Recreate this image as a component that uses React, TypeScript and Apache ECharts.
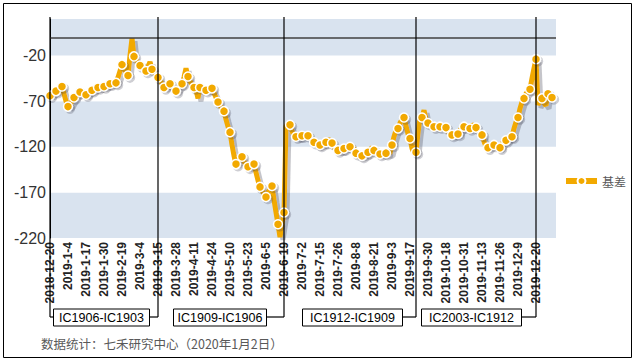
import React, { useEffect, useRef } from "react";
import * as echarts from "echarts";

// Trading days (category axis)
const dates: string[] = [
  "2018-12-20","2018-12-21","2018-12-24","2018-12-25","2018-12-26","2018-12-27","2018-12-28",
  "2019-1-2","2019-1-3","2019-1-4","2019-1-7","2019-1-8","2019-1-9","2019-1-10","2019-1-11","2019-1-14","2019-1-15","2019-1-16","2019-1-17","2019-1-18","2019-1-21","2019-1-22","2019-1-23","2019-1-24","2019-1-25","2019-1-28","2019-1-29","2019-1-30","2019-1-31",
  "2019-2-1","2019-2-11","2019-2-12","2019-2-13","2019-2-14","2019-2-15","2019-2-18","2019-2-19","2019-2-20","2019-2-21","2019-2-22","2019-2-25","2019-2-26","2019-2-27","2019-2-28",
  "2019-3-1","2019-3-4","2019-3-5","2019-3-6","2019-3-7","2019-3-8","2019-3-11","2019-3-12","2019-3-13","2019-3-14","2019-3-15","2019-3-18","2019-3-19","2019-3-20","2019-3-21","2019-3-22","2019-3-25","2019-3-26","2019-3-27","2019-3-28","2019-3-29",
  "2019-4-1","2019-4-2","2019-4-3","2019-4-4","2019-4-8","2019-4-9","2019-4-10","2019-4-11","2019-4-12","2019-4-15","2019-4-16","2019-4-17","2019-4-18","2019-4-19","2019-4-22","2019-4-23","2019-4-24","2019-4-25","2019-4-26","2019-4-29","2019-4-30",
  "2019-5-6","2019-5-7","2019-5-8","2019-5-9","2019-5-10","2019-5-13","2019-5-14","2019-5-15","2019-5-16","2019-5-17","2019-5-20","2019-5-21","2019-5-22","2019-5-23","2019-5-24","2019-5-27","2019-5-28","2019-5-29","2019-5-30","2019-5-31",
  "2019-6-3","2019-6-4","2019-6-5","2019-6-6","2019-6-10","2019-6-11","2019-6-12","2019-6-13","2019-6-14","2019-6-17","2019-6-18","2019-6-19","2019-6-20","2019-6-21","2019-6-24","2019-6-25","2019-6-26","2019-6-27","2019-6-28",
  "2019-7-1","2019-7-2","2019-7-3","2019-7-4","2019-7-5","2019-7-8","2019-7-9","2019-7-10","2019-7-11","2019-7-12","2019-7-15","2019-7-16","2019-7-17","2019-7-18","2019-7-19","2019-7-22","2019-7-23","2019-7-24","2019-7-25","2019-7-26","2019-7-29","2019-7-30","2019-7-31",
  "2019-8-1","2019-8-2","2019-8-5","2019-8-6","2019-8-7","2019-8-8","2019-8-9","2019-8-12","2019-8-13","2019-8-14","2019-8-15","2019-8-16","2019-8-19","2019-8-20","2019-8-21","2019-8-22","2019-8-23","2019-8-26","2019-8-27","2019-8-28","2019-8-29","2019-8-30",
  "2019-9-2","2019-9-3","2019-9-4","2019-9-5","2019-9-6","2019-9-9","2019-9-10","2019-9-11","2019-9-12","2019-9-16","2019-9-17","2019-9-18","2019-9-19","2019-9-20","2019-9-23","2019-9-24","2019-9-25","2019-9-26","2019-9-27","2019-9-30",
  "2019-10-8","2019-10-9","2019-10-10","2019-10-11","2019-10-14","2019-10-15","2019-10-16","2019-10-17","2019-10-18","2019-10-21","2019-10-22","2019-10-23","2019-10-24","2019-10-25","2019-10-28","2019-10-29","2019-10-30","2019-10-31",
  "2019-11-1","2019-11-4","2019-11-5","2019-11-6","2019-11-7","2019-11-8","2019-11-11","2019-11-12","2019-11-13","2019-11-14","2019-11-15","2019-11-18","2019-11-19","2019-11-20","2019-11-21","2019-11-22","2019-11-25","2019-11-26","2019-11-27","2019-11-28","2019-11-29",
  "2019-12-2","2019-12-3","2019-12-4","2019-12-5","2019-12-6","2019-12-9","2019-12-10","2019-12-11","2019-12-12","2019-12-13","2019-12-16","2019-12-17","2019-12-18","2019-12-19","2019-12-20","2019-12-23","2019-12-24","2019-12-25","2019-12-26","2019-12-27","2019-12-30","2019-12-31",
  "2020-1-2",
];
// two empty rows at the end of the category range
const blankCategories: string[] = ["", ""];

// 基差 values (points)
const basis: number[] = [
  -64,-62,-60,-59,-57,-55,-54,-62,-70,-76,
  -74,-70,-66,-64,-62,-60,-61,-62,-63,-61,
  -59,-58,-57,-56,-55,-55,-54,-54,-53,-52,
  -51,-51,-50,-50,-44,-37,-30,-34,-38,-42,
  -20,-1,-21,-25,-28,-31,-33,-35,-37,-32,
  -27,-35,-38,-41,-44,
  -47,-51,-55,-54,-52,-51,-54,-57,-59,-56,
  -53,-51,-44,-34,-43,-48,-52,-55,-58,-67,
  -55,-56,-57,-58,-57,-57,-56,-61,-66,-71,
  -75,-78,-81,-90,-98,-104,-118,-130,-139,-136,
  -133,-131,-136,-140,-142,-140,-139,-139,-148,-157,
  -164,-168,-172,-175,-170,-166,-163,-178,-192,-205,
  -219,-205,-192,
  -97,-96,-96,-103,-108,-109,-110,-109,-108,-107,
  -108,-108,-111,-113,-115,-118,-119,-118,-117,-117,
  -115,-113,-112,-116,-120,-124,-124,-124,-124,-122,
  -120,-119,-120,-121,-122,-127,-131,-130,-130,-129,
  -129,-126,-123,-121,-124,-127,-127,-128,-128,-128,
  -127,-127,-127,-118,-109,-102,-100,-94,-90,-88,
  -97,-106,-111,-122,-127,
  -126,-105,-88,-88,-80,-90,-94,-96,-97,-98,
  -98,-98,-98,-98,-99,-99,-103,-106,-107,-107,
  -106,-106,-102,-99,-98,-99,-100,-100,-96,-97,
  -99,-102,-105,-107,-114,-120,-121,-119,-118,-118,
  -120,-121,-121,-117,-114,-113,-111,-110,-109,-100,
  -93,-88,-78,-71,-67,-62,-59,-57,-45,-34,
  -24,-74,-70,-67,-72,-75,-62,-64,-66,
];

const seriesName = "基差";
const yMin = -220;
const yMax = 20;
const yInterval = 50;
const zeroLine = 0;

// contract roll dates (vertical separators) and spread labels
const rollDates: string[] = ["2018-12-20", "2019-3-15", "2019-6-19", "2019-9-20", "2019-12-20"];
const spreadLabels: string[] = ["IC1906-IC1903", "IC1909-IC1906", "IC1912-IC1909", "IC2003-IC1912"];
const sourceNote = "数据统计：七禾研究中心（2020年1月2日）";

const ORANGE = "#F2A900";
const LATIN = "'Liberation Sans', Arial, 'Noto Sans CJK SC', sans-serif";
const CJK = "'Noto Sans CJK SC', 'Liberation Sans', sans-serif";

export default function App() {
  const ref = useRef<HTMLDivElement>(null);

  useEffect(() => {
    document.body.style.margin = "0";
    if (!ref.current) return;
    const chart = echarts.init(ref.current, null, { renderer: "svg" });
    const last = basis.length - 1;

    const option: any = {
      animation: false,
      backgroundColor: "#ffffff",
      textStyle: { fontFamily: LATIN },
      grid: { left: 50, right: 79, top: 19, bottom: 124, containLabel: false },
      legend: {
        data: [seriesName],
        orient: "vertical",
        right: 4,
        top: 170,
        itemWidth: 31,
        itemHeight: 10,
        itemGap: 6,
        lineStyle: { width: 6 },
        textStyle: { fontSize: 12, color: "#595959", fontFamily: CJK },
      },
      xAxis: {
        type: "category",
        boundaryGap: false,
        data: [...dates, ...blankCategories],
        axisLine: { show: false },
        axisTick: { show: false },
        axisLabel: {
          interval: 8,
          rotate: 90,
          fontSize: 12,
          fontWeight: "bold",
          color: "#222222",
          margin: 4,
          fontFamily: LATIN,
        },
        splitLine: { show: false },
      },
      yAxis: {
        type: "value",
        min: yMin,
        max: yMax,
        interval: yInterval,
        axisLine: { show: true, lineStyle: { color: "#000000", width: 1 } },
        axisTick: { show: false },
        axisLabel: { fontSize: 16, color: "#333333", margin: 4, showMaxLabel: false, fontFamily: LATIN },
        splitLine: { show: false },
        splitArea: { show: true, areaStyle: { color: ["#D9E3EF", "#ffffff"] } },
      },
      series: [
        {
          type: "line",
          name: seriesName,
          data: basis.map((v, i) => ({
            value: v,
            symbol: i % 3 === 0 || i === last ? "circle" : "none",
          })),
          symbol: "circle",
          symbolSize: 9,
          showAllSymbol: true,
          lineStyle: {
            color: ORANGE,
            width: 5,
            shadowColor: "rgba(60,60,80,0.3)",
            shadowBlur: 1.5,
            shadowOffsetX: 3,
            shadowOffsetY: 3,
          },
          itemStyle: {
            color: ORANGE,
            borderColor: "#ffffff",
            borderWidth: 1.5,
            shadowColor: "rgba(60,60,80,0.25)",
            shadowBlur: 1.5,
            shadowOffsetX: 2,
            shadowOffsetY: 2,
          },
          markLine: {
            silent: true,
            symbol: "none",
            label: { show: false },
            lineStyle: { color: "#404040", width: 1.5, type: "solid" },
            data: [{ yAxis: zeroLine }],
          },
        },
      ],
    };
    chart.setOption(option);

    // annotation geometry
    const lineXs = rollDates.map((d) => chart.convertToPixel({ xAxisIndex: 0 }, d) as number);
    const lineTop = 17;
    const lineBottom = 317;
    const boxH = 17;
    const boxTop = lineBottom - 8.5;
    const boxW = [96, 93, 100, 100];
    const boxGap = [9, 18, 14, 15];

    const elements: any[] = [];
    elements.push({
      type: "rect",
      z: 100,
      shape: { x: 3.5, y: 3.5, width: 628, height: 354 },
      style: { fill: "none", stroke: "#000000", lineWidth: 1 },
    });
    lineXs.forEach((x) => {
      elements.push({
        type: "line",
        z: 100,
        shape: { x1: x, y1: lineTop, x2: x, y2: lineBottom },
        style: { stroke: "#000000", lineWidth: 1.2 },
      });
    });
    spreadLabels.forEach((label, i) => {
      const right = lineXs[i + 1] - boxGap[i];
      const left = right - boxW[i];
      elements.push({
        type: "line",
        z: 100,
        shape: { x1: right, y1: lineBottom, x2: lineXs[i + 1], y2: lineBottom },
        style: { stroke: "#000000", lineWidth: 1.2 },
      });
      if (i === 0) {
        elements.push({
          type: "line",
          z: 100,
          shape: { x1: lineXs[0], y1: lineBottom, x2: left, y2: lineBottom },
          style: { stroke: "#000000", lineWidth: 1.2 },
        });
      }
      elements.push({
        type: "rect",
        z: 100,
        shape: { x: left + 0.5, y: boxTop + 0.5, width: boxW[i], height: boxH },
        style: { fill: "#ffffff", stroke: "#000000", lineWidth: 1 },
      });
      elements.push({
        type: "text",
        z: 101,
        x: left + boxW[i] / 2 + 0.5,
        y: boxTop + boxH / 2 + 1,
        style: {
          text: label,
          fontSize: 12.5,
          fontFamily: LATIN,
          fill: "#000000",
          align: "center",
          verticalAlign: "middle",
        },
      });
    });
    elements.push({
      type: "text",
      z: 100,
      x: 41,
      y: 343,
      style: {
        text: sourceNote,
        fontSize: 12.5,
        fontFamily: CJK,
        fill: "#595959",
        align: "left",
        verticalAlign: "middle",
      },
    });
    chart.setOption({ graphic: elements });

    return () => {
      chart.dispose();
    };
  }, []);

  return (
    <div
      ref={ref}
      style={{ position: "absolute", left: 0, top: 0, width: 635, height: 362 }}
    />
  );
}
